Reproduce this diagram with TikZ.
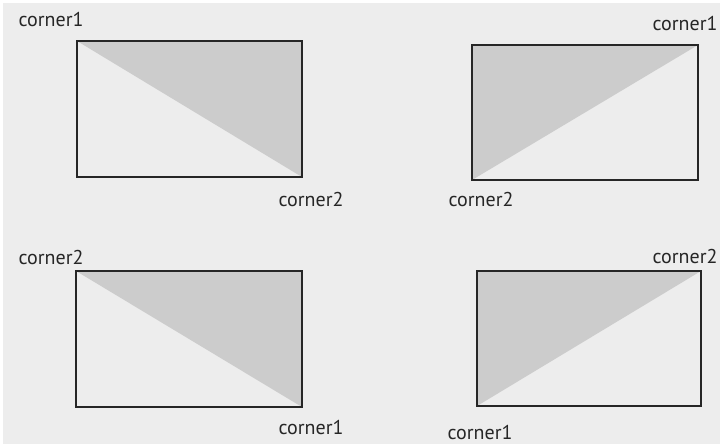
\documentclass[tikz,border=0pt]{standalone}
\usepackage{fontspec}
\setmainfont{PT Sans}
\usetikzlibrary{positioning}
\colorlet{backdrop}{black!7}
\colorlet{halftri}{black!20}
\tikzset{
    box/.style={draw=black!85, line width=1.4pt},
    cornerlabel/.style={font=\fontsize{20}{24}\selectfont, text=black!85, inner sep=0pt}
}

\begin{document}
\begin{tikzpicture}[x=1pt, y=-1pt]
        % page
        \useasboundingbox (0,0) rectangle (723,447);
        \fill[backdrop] (3,3) rectangle (720,444);
        % rectangle corners
        \coordinate (A1) at (77,41);
        \coordinate (A2) at (302,177);
        \coordinate (B1) at (698,45);
        \coordinate (B2) at (472,180);
        \coordinate (C2) at (76,271);
        \coordinate (C1) at (302,407);
        \coordinate (D2) at (701,271);
        \coordinate (D1) at (477,406);
        % shaded halves
        \fill[halftri] (A1) -- (A1 -| A2) -- (A2) -- cycle;
        \fill[halftri] (B1) -- (B1 -| B2) -- (B2) -- cycle;
        \fill[halftri] (C2) -- (C2 -| C1) -- (C1) -- cycle;
        \fill[halftri] (D2) -- (D2 -| D1) -- (D1) -- cycle;
        % frames
        \draw[box] (A1) rectangle (A2);
        \draw[box] (B1) rectangle (B2);
        \draw[box] (C2) rectangle (C1);
        \draw[box] (D2) rectangle (D1);
        % labels
        \node[cornerlabel] (a1) at (51,20) {corner1};
        \node[cornerlabel] (a2) at (311,199) {corner2};
        \node[cornerlabel] (b1) at (685,23) {corner1};
        \node[cornerlabel] (b2) at (481,199) {corner2};
        \node[cornerlabel] (c2) at (51,257) {corner2};
        \node[cornerlabel] (c1) at (311,427) {corner1};
        \node[cornerlabel] (d2) at (685,256) {corner2};
        \node[cornerlabel] (d1) at (480,432) {corner1};
    \end{tikzpicture}
\end{document}
